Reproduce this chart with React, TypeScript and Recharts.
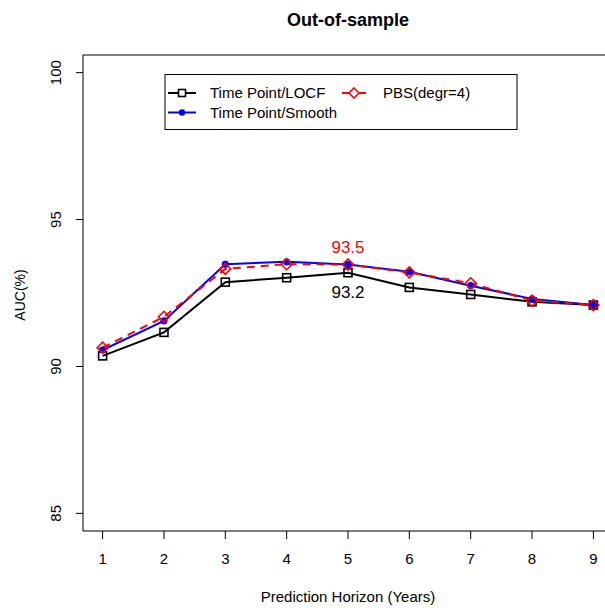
import React from "react";
import { LineChart, Line, XAxis, YAxis, ReferenceArea } from "recharts";

const years = [1, 2, 3, 4, 5, 6, 7, 8, 9];
const locf = [90.36, 91.16, 92.87, 93.02, 93.19, 92.69, 92.45, 92.2, 92.09];
const smooth = [90.56, 91.55, 93.48, 93.56, 93.47, 93.22, 92.75, 92.3, 92.09];
const pbs = [90.64, 91.69, 93.32, 93.48, 93.47, 93.2, 92.83, 92.24, 92.09];
const yTicks = [85, 90, 95, 100];

const data = years.map((x, i) => ({ x, locf: locf[i], smooth: smooth[i], pbs: pbs[i] }));

const FONT = "'Liberation Sans', Arial, sans-serif";

const SquareDot = (p: any) => (
  <rect key={`sq-${p.index}`} x={p.cx - 4} y={p.cy - 4} width={8} height={8} fill="none" stroke="#000" strokeWidth={1.6} />
);
const CircleDot = (p: any) => (
  <circle key={`ci-${p.index}`} cx={p.cx} cy={p.cy} r={3.2} fill="#0000ff" stroke="#0000ff" />
);
const DiamondDot = (p: any) => (
  <polygon
    key={`di-${p.index}`}
    points={`${p.cx},${p.cy - 5.5} ${p.cx + 5.5},${p.cy} ${p.cx},${p.cy + 5.5} ${p.cx - 5.5},${p.cy}`}
    fill="none"
    stroke="#ff0000"
    strokeWidth={1.6}
  />
);

const XTick = (p: any) => (
  <text x={p.x} y={p.y + 22.5} textAnchor="middle" fontSize={15} fontFamily={FONT} fill="#000">
    {p.payload.value}
  </text>
);
const YTick = (p: any) => {
  const tx = p.x - 13;
  return (
    <text x={tx} y={p.y} transform={`rotate(-90, ${tx}, ${p.y})`} textAnchor="middle" fontSize={15} fontFamily={FONT} fill="#000">
      {p.payload.value}
    </text>
  );
};

const redLabel = (p: any) =>
  p.index === 4 ? (
    <text key="rl" x={p.x} y={p.y - 11} textAnchor="middle" fontSize={17} fontFamily={FONT} fill="#ff0000">
      {Number(p.value).toFixed(1)}
    </text>
  ) : null;
const blackLabel = (p: any) =>
  p.index === 4 ? (
    <text key="bl" x={p.x} y={p.y + 25} textAnchor="middle" fontSize={17} fontFamily={FONT} fill="#000">
      {Number(p.value).toFixed(1)}
    </text>
  ) : null;

export default function App() {
  return (
    <div style={{ position: "absolute", left: 0, top: 0, width: 605, height: 610, overflow: "hidden", background: "#fff" }}>
      <LineChart width={620} height={610} data={data} margin={{ top: 55, right: 7, left: 0, bottom: 0 }}>
        <XAxis
          dataKey="x"
          type="number"
          domain={[0.68, 9.32]}
          ticks={years}
          axisLine={false}
          tickSize={8}
          tickLine={{ stroke: "#000" }}
          tick={<XTick />}
          height={79}
          allowDataOverflow
        />
        <YAxis
          type="number"
          domain={[84.4, 100.6]}
          ticks={yTicks}
          axisLine={false}
          tickSize={7}
          tickLine={{ stroke: "#000" }}
          tick={<YTick />}
          width={83}
          allowDataOverflow
        />
        <ReferenceArea x1={0.68} x2={9.32} y1={84.4} y2={100.6} fill="none" stroke="#000" strokeWidth={1} fillOpacity={0} />
        <Line dataKey="locf" stroke="#000" strokeWidth={2} dot={SquareDot} isAnimationActive={false} label={blackLabel} />
        <Line dataKey="smooth" stroke="#0000ff" strokeWidth={2} dot={CircleDot} isAnimationActive={false} />
        <Line dataKey="pbs" stroke="#ff0000" strokeWidth={2} strokeDasharray="8 6" dot={DiamondDot} isAnimationActive={false} label={redLabel} />
      </LineChart>
      <svg width={605} height={610} style={{ position: "absolute", left: 0, top: 0, pointerEvents: "none" }}>
        <text x={348} y={26} textAnchor="middle" fontSize={18} fontWeight="bold" fontFamily={FONT} fill="#000">
          Out-of-sample
        </text>
        <text x={348} y={602} textAnchor="middle" fontSize={15} fontFamily={FONT} fill="#000">
          Prediction Horizon (Years)
        </text>
        <text x={25} y={295} transform="rotate(-90, 25, 295)" textAnchor="middle" fontSize={14} fontFamily={FONT} fill="#000">
          AUC(%)
        </text>
        <rect x={165} y={74.5} width={352} height={55} fill="#fff" stroke="#000" strokeWidth={1} />
        <line x1={168} y1={93} x2={196} y2={93} stroke="#000" strokeWidth={2} />
        <rect x={178.5} y={89.5} width={7} height={7} fill="#fff" stroke="#000" strokeWidth={1.6} />
        <text x={210} y={98} fontSize={15} fontFamily={FONT} fill="#000">Time Point/LOCF</text>
        <line x1={168} y1={112.5} x2={196} y2={112.5} stroke="#0000ff" strokeWidth={2} />
        <circle cx={182} cy={112.5} r={3.2} fill="#0000ff" />
        <text x={210} y={117.5} fontSize={15} fontFamily={FONT} fill="#000">Time Point/Smooth</text>
        <line x1={342} y1={93} x2={366} y2={93} stroke="#ff0000" strokeWidth={2} />
        <polygon points="354,88 359,93 354,98 349,93" fill="#fff" stroke="#ff0000" strokeWidth={1.6} />
        <text x={383} y={98} fontSize={15} fontFamily={FONT} fill="#000">PBS(degr=4)</text>
      </svg>
    </div>
  );
}
